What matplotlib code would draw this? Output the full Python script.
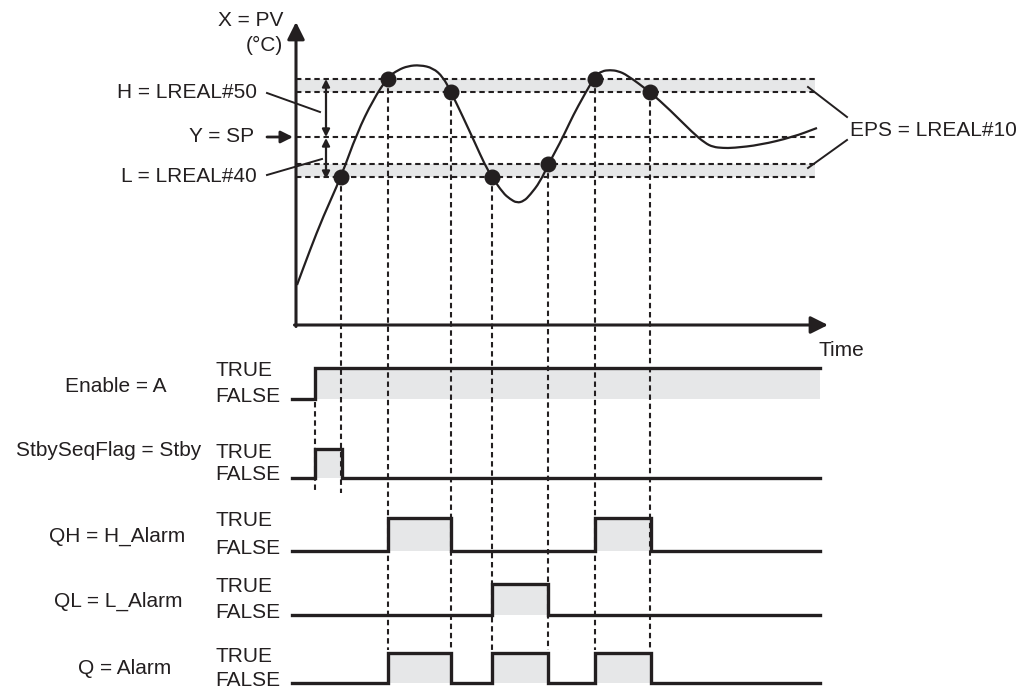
import numpy as np
import matplotlib.pyplot as plt
from matplotlib.path import Path
from matplotlib.patches import PathPatch

plt.rcParams['font.family'] = ['Liberation Sans', 'DejaVu Sans']

INK = '#231f20'
GRAY = '#e6e7e8'

# PV curve: time units from the PV axis, temperature units from the time axis
pv_time = [1, 14, 27, 45, 61, 77, 92, 102, 112, 124, 137, 147, 155, 167, 179, 189, 196, 207, 214,
           221, 228, 234, 244, 253, 264, 274, 281, 299, 306, 314, 322, 331, 354, 374, 397, 409,
           417, 427, 437, 464, 497, 521]
pv_temp = [40, 75, 108, 148, 192, 225, 248, 255, 259, 260, 257, 248, 233, 208, 182, 160, 148, 132,
           126, 122, 124, 130, 143, 162, 182, 203, 217, 249, 254, 255, 254, 250, 233, 215, 192, 182,
           178, 177, 177, 180, 188, 197]

# limits
sp = 188
h_band = (233, 246)
l_band = (148, 161)
band_end = 519

# crossing points
cross_time = [45, 92, 155, 196, 252, 299, 354]
cross_temp = [148, 246, 233, 148, 161, 246, 233]

# timing signals (edges and states after each edge)
sig_names = ['Enable = A', 'StbySeqFlag = Stby', 'QH = H_Alarm', 'QL = L_Alarm', 'Q = Alarm']
sig_edges = [
    [-4, 19, 524],
    [-4, 19, 46, 524],
    [-4, 92, 155, 299, 355, 524],
    [-4, 196, 252, 524],
    [-4, 92, 155, 196, 252, 299, 355, 524],
]
sig_states = [
    [0, 1, 1],
    [0, 1, 0, 0],
    [0, 1, 0, 1, 0, 0],
    [0, 1, 0, 0],
    [0, 1, 0, 1, 0, 1, 0, 0],
]

# layout (pixels)
X0, Y0 = 296, 325
rows_hi = [368, 449, 518, 584, 653]
rows_lo = [399, 478, 551, 615, 683]


def px(t):
    return X0 + np.asarray(t, dtype=float)


def py(v):
    return Y0 - np.asarray(v, dtype=float)


fig = plt.figure(figsize=(10.23, 6.89), dpi=100)
ax = fig.add_axes([0, 0, 1, 1])
ax.set_xlim(0, 1023)
ax.set_ylim(689, 0)
ax.axis('off')

fs = 15
dash = (0, (2.6, 1.8))
dlw = 1.5

# bands
for lo, hi in (h_band, l_band):
    ax.fill_between([px(0), px(band_end)], py(lo), py(hi), color=GRAY, lw=0, zorder=1)
    for v in (lo, hi):
        ax.plot([px(0), px(band_end)], [py(v), py(v)], color=INK, lw=dlw, ls=dash, zorder=2)
ax.plot([px(0), px(band_end)], [py(sp), py(sp)], color=INK, lw=dlw, ls=dash, zorder=2)

# axes arrows
ax.annotate('', xy=(X0, 22), xytext=(X0, Y0 + 1.5),
            arrowprops=dict(arrowstyle='-|>', color=INK, lw=2.2, mutation_scale=26,
                            shrinkA=0, shrinkB=0), zorder=5)
ax.annotate('', xy=(px(532), Y0), xytext=(X0 - 1.5, Y0),
            arrowprops=dict(arrowstyle='-|>', color=INK, lw=2.2, mutation_scale=26,
                            shrinkA=0, shrinkB=0), zorder=5)

# PV curve: smooth quadratic path through the read points
pts = np.column_stack([px(pv_time), py(pv_temp)])
verts = [pts[0], (pts[0] + pts[1]) / 2]
codes = [Path.MOVETO, Path.LINETO]
for k in range(1, len(pts) - 1):
    verts += [pts[k], (pts[k] + pts[k + 1]) / 2]
    codes += [Path.CURVE3, Path.CURVE3]
verts.append(pts[-1])
codes.append(Path.LINETO)
ax.add_patch(PathPatch(Path(verts, codes), fill=False, edgecolor=INK, lw=1.6, zorder=4))
ax.plot(px(cross_time), py(cross_temp), 'o', color=INK, ms=10.5, zorder=6)

# vertical dashed guides
for t, v in zip(cross_time, cross_temp):
    bottom = 493 if t == cross_time[0] else rows_hi[4] - 3
    ax.plot([px(t), px(t)], [py(v), bottom], color=INK, lw=dlw, ls=dash, zorder=2)
ax.plot([px(19), px(19)], [rows_lo[0] + 3, 493], color=INK, lw=dlw, ls=dash, zorder=2)

# H / L double arrows
ax.annotate('', xy=(326, py(h_band[1])), xytext=(326, py(sp)),
            arrowprops=dict(arrowstyle='<|-|>', color=INK, lw=1.6, mutation_scale=11,
                            shrinkA=0, shrinkB=0), zorder=5)
ax.annotate('', xy=(326, py(sp) + 1), xytext=(326, py(l_band[0]) + 2),
            arrowprops=dict(arrowstyle='<|-|>', color=INK, lw=1.6, mutation_scale=11,
                            shrinkA=0, shrinkB=0), zorder=5)

# labels on the PV chart
ax.text(283, 20, 'X = PV', fontsize=fs, color=INK, ha='right', va='center')
ax.text(283, 45, '(°C)', fontsize=fs, color=INK, ha='right', va='center')
ax.text(257, 93, 'H = LREAL#50', fontsize=fs, color=INK, ha='right', va='center')
ax.plot([267, 320], [93, 112], color=INK, lw=1.4)
ax.text(254, py(sp), 'Y = SP', fontsize=fs, color=INK, ha='right', va='center')
ax.annotate('', xy=(293, py(sp)), xytext=(267, py(sp)),
            arrowprops=dict(arrowstyle='-|>', color=INK, lw=2, mutation_scale=18,
                            shrinkA=0, shrinkB=0))
ax.text(257, 177, 'L = LREAL#40', fontsize=fs, color=INK, ha='right', va='center')
ax.plot([267, 322], [175, 159], color=INK, lw=1.4)
ax.text(850, 130, 'EPS = LREAL#10', fontsize=fs, color=INK, ha='left', va='center')
ax.plot([808, 847], [87, 117], color=INK, lw=1.4)
ax.plot([808, 847], [168, 140], color=INK, lw=1.4)
ax.text(841, 350, 'Time', fontsize=fs, color=INK, ha='center', va='center')

# timing diagrams
label_x = [116, 201, 117, 118, 125]
label_y = [386, 451, 536, 601, 668]
label_ha = ['center', 'right', 'center', 'center', 'center']
for i, name in enumerate(sig_names):
    hi, lo = rows_hi[i], rows_lo[i]
    x = px(sig_edges[i])
    y = np.where(np.array(sig_states[i]) == 1, hi, lo)
    ax.fill_between(x, lo, y, step='post', color=GRAY, lw=0, zorder=1)
    ax.step(x, y, where='post', color=INK, lw=2.4, zorder=3, solid_joinstyle='miter')
    ax.text(label_x[i], label_y[i], name, fontsize=fs, color=INK, ha=label_ha[i], va='center')
    ax.text(215, hi + 3, 'TRUE', fontsize=fs, color=INK, ha='left', va='center')
    ax.text(215, lo - 3, 'FALSE', fontsize=fs, color=INK, ha='left', va='center')

fig.savefig('out.png', dpi=100)
